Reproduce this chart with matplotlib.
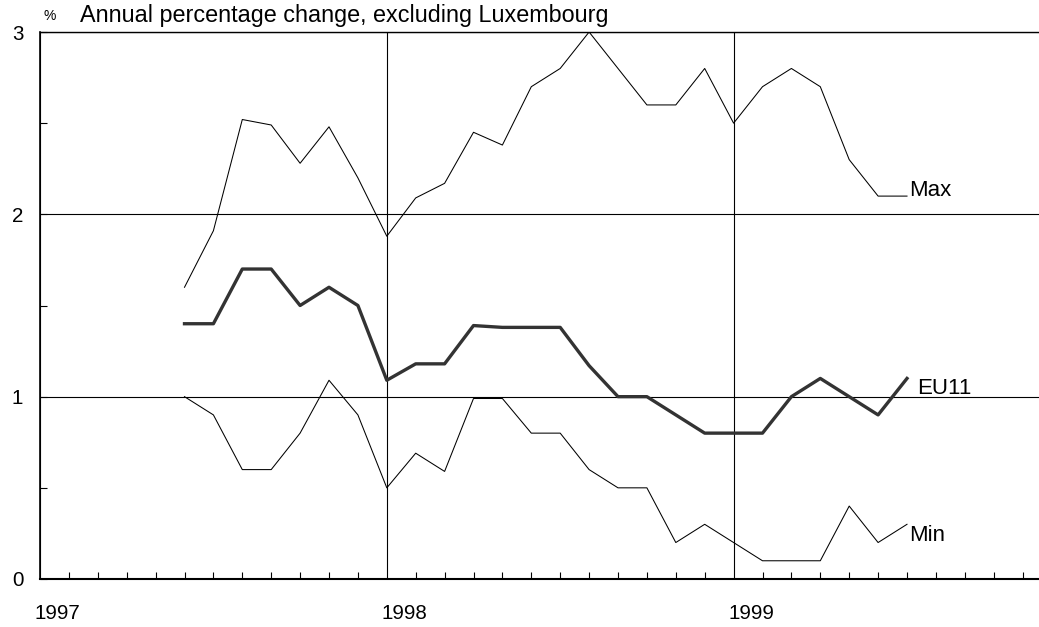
import numpy as np
import matplotlib
matplotlib.use("Agg")
import matplotlib.pyplot as plt
import matplotlib.transforms as mtransforms
from matplotlib.ticker import MultipleLocator, FixedLocator

plt.rcParams['font.family'] = ['Liberation Sans', 'DejaVu Sans']

# months counted from January 1997 (0 = Jan 1997)
months = list(range(5, 31))

eu11 = [1.4, 1.4, 1.7, 1.7, 1.5, 1.6, 1.5, 1.09, 1.18, 1.18, 1.39, 1.38, 1.38,
        1.38, 1.17, 1.0, 1.0, 0.9, 0.8, 0.8, 0.8, 1.0, 1.1, 1.0, 0.9, 1.1]
max_vals = [1.6, 1.91, 2.52, 2.49, 2.28, 2.48, 2.2, 1.88, 2.09, 2.17, 2.45, 2.38, 2.7,
            2.8, 3.0, 2.8, 2.6, 2.6, 2.8, 2.5, 2.7, 2.8, 2.7, 2.3, 2.1, 2.1]
min_vals = [1.0, 0.9, 0.6, 0.6, 0.8, 1.09, 0.9, 0.5, 0.69, 0.59, 0.99, 0.99, 0.8,
            0.8, 0.6, 0.5, 0.5, 0.2, 0.3, 0.2, 0.1, 0.1, 0.1, 0.4, 0.2, 0.3]

year_ticks = [0, 12, 24]
year_labels = ["1997", "1998", "1999"]
y_ticks = [0, 1, 2, 3]

fig = plt.figure(figsize=(10.39, 6.27), dpi=100)
ax = fig.add_axes([40 / 1039, 1 - 579 / 627, 1 - 40 / 1039, (579 - 32) / 627])

# series
ax.plot(months, max_vals, color="black", lw=0.75)
ax.plot(months, min_vals, color="black", lw=0.75)
ax.plot(months, eu11, color="#333333", lw=2.4)

# series labels at the line ends
ax.annotate("Max", (months[-1], max_vals[-1]), xytext=(1.5, 0), textcoords="offset points",
            ha="left", va="baseline", fontsize=16)
ax.annotate("EU11", (months[-1], eu11[-1]), xytext=(7, -11), textcoords="offset points",
            ha="left", va="baseline", fontsize=16)
ax.annotate("Min", (months[-1], min_vals[-1]), xytext=(1.5, -12), textcoords="offset points",
            ha="left", va="baseline", fontsize=16)

ax.set_xlim(0, (1039 - 40) / 28.9)
ax.set_ylim(0, 3)

# grid: horizontal at integer values, vertical at year starts
ax.xaxis.set_major_locator(FixedLocator(year_ticks))
ax.xaxis.set_minor_locator(MultipleLocator(1))
ax.yaxis.set_major_locator(FixedLocator(y_ticks))
ax.yaxis.set_minor_locator(MultipleLocator(0.5))
ax.grid(True, which="major", color="black", lw=0.8)

ax.set_xticklabels(year_labels, ha="left", fontsize=14.8)
ax.set_yticklabels([str(v) for v in y_ticks], fontsize=14.8)
ax.tick_params(axis="x", which="both", direction="in", length=5, width=0.8, pad=18)
ax.tick_params(axis="x", which="major", length=0)
ax.tick_params(axis="y", which="both", direction="in", length=5, width=0.8, pad=12)

shift = mtransforms.ScaledTranslation(-5 / 100, 0, fig.dpi_scale_trans)
for lbl in ax.get_xticklabels():
    lbl.set_transform(lbl.get_transform() + shift)

ax.spines["right"].set_visible(False)
ax.spines["top"].set_linewidth(1.0)
ax.spines["left"].set_linewidth(1.2)
ax.spines["bottom"].set_linewidth(1.5)

fig.text(43 / 1039, 1 - 20 / 627, "%", fontsize=10, ha="left", va="baseline")
fig.text(80 / 1039, 1 - 22 / 627, "Annual percentage change, excluding Luxembourg",
         fontsize=16.8, ha="left", va="baseline")

fig.savefig("out.png", dpi=100)
